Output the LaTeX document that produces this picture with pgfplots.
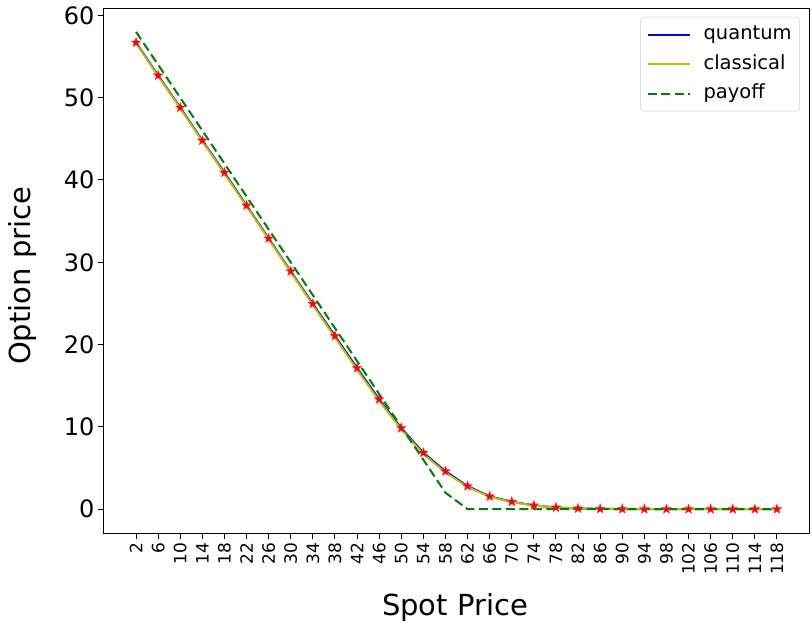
\documentclass[border=0pt]{standalone}
\usepackage{pgfplots}
\pgfplotsset{compat=1.18}
\usepackage{fontspec}
\setmainfont{DejaVu Sans}
\definecolor{mplblue}{rgb}{0,0,1}
\definecolor{mplyellow}{rgb}{0.75,0.75,0}
\definecolor{mplgreen}{rgb}{0,0.5,0}
\pgfdeclareplotmark{fstar}{%
  \pgfpathmoveto{\pgfpointpolar{90}{\pgfplotmarksize}}%
  \pgfpathlineto{\pgfpointpolar{126}{0.4\pgfplotmarksize}}%
  \pgfpathlineto{\pgfpointpolar{162}{\pgfplotmarksize}}%
  \pgfpathlineto{\pgfpointpolar{198}{0.4\pgfplotmarksize}}%
  \pgfpathlineto{\pgfpointpolar{234}{\pgfplotmarksize}}%
  \pgfpathlineto{\pgfpointpolar{270}{0.4\pgfplotmarksize}}%
  \pgfpathlineto{\pgfpointpolar{306}{\pgfplotmarksize}}%
  \pgfpathlineto{\pgfpointpolar{342}{0.4\pgfplotmarksize}}%
  \pgfpathlineto{\pgfpointpolar{18}{\pgfplotmarksize}}%
  \pgfpathlineto{\pgfpointpolar{54}{0.4\pgfplotmarksize}}%
  \pgfpathclose
  \pgfusepathqfillstroke}
\pgfplotstableread{
S quantum classical payoff
2 56.7 56.6 58
6 52.7 52.6 54
10 48.8 48.7 50
14 44.8 44.7 46
18 40.9 40.75 42
22 36.9 36.8 38
26 32.9 32.8 34
30 28.9 28.8 30
34 24.95 24.8 26
38 21.05 20.85 22
42 17.15 16.95 18
46 13.35 13.15 14
50 9.85 9.7 10
54 6.85 6.7 6
58 4.6 4.45 2
62 2.8 2.7 0
66 1.55 1.5 0
70 0.9 0.85 0
74 0.45 0.45 0
78 0.2 0.2 0
82 0.08 0.08 0
86 0.03 0.03 0
90 0.01 0.01 0
94 0 0 0
98 0 0 0
102 0 0 0
106 0 0 0
110 0 0 0
114 0 0 0
118 0 0 0
}\datatable
\begin{document}
\begin{tikzpicture}
\useasboundingbox (-104pt,-92pt) rectangle (708pt,533pt);
\begin{axis}[
  at={(0,0)}, anchor=south west,
  scale only axis, width=705pt, height=525pt,
  xmin=-3.8, xmax=123.8, ymin=-2.9, ymax=60.9,
  xtick={2,6,...,118}, ytick={0,10,...,60},
  tick align=outside, major tick length=6pt,
  xtick pos=bottom, ytick pos=left,
  tick style={black, line width=1pt},
  axis line style={black, line width=1pt},
  /pgf/number format/assume math mode=true,
  xticklabel style={rotate=90, anchor=east, font=\fontsize{17}{20}\selectfont},
  yticklabel style={font=\fontsize{24}{28}\selectfont},
  xlabel={Spot Price}, ylabel={Option price},
  every axis x label/.style={at={(axis description cs:0.498,-0.158)}, anchor=base, font=\fontsize{29}{34}\selectfont},
  every axis y label/.style={at={(axis description cs:-0.091,0.49)}, anchor=south, rotate=90, font=\fontsize{29}{34}\selectfont},
  legend style={at={(0.987,0.983)}, anchor=north east, draw=black!20, rounded corners=3pt,
    font=\fontsize{19.5}{23}\selectfont, inner xsep=6pt, inner ysep=6pt, row sep=6.5pt,
    nodes={inner sep=2pt, text height=14.5pt, text depth=4.5pt}},
  legend cell align=left,
  legend image code/.code={\draw[#1] (0pt,0pt) -- (42pt,0pt); \path (0pt,0pt) (53pt,0pt);},
]
\addplot[only marks, mark=fstar, mark size=5pt, red, mark options={fill=red, draw=red!85}, forget plot] table[x=S, y=quantum] {\datatable};
\addplot[mplblue, line width=2pt, no marks] table[x=S, y=quantum] {\datatable};
\addlegendentry{quantum}
\addplot[mplyellow, line width=2pt, no marks] table[x=S, y=classical] {\datatable};
\addlegendentry{classical}
\addplot[mplgreen, line width=2pt, dash pattern=on 9pt off 4.5pt, no marks] table[x=S, y=payoff] {\datatable};
\addlegendentry{payoff}
\end{axis}
\end{tikzpicture}
\end{document}
